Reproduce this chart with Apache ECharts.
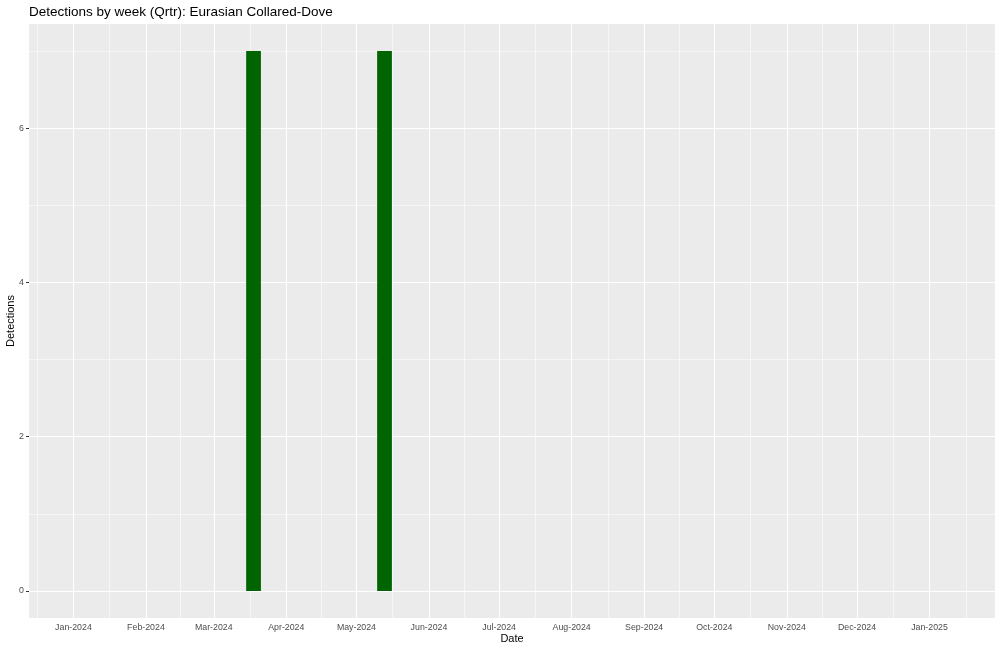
<!DOCTYPE html>
<html>
<head>
<meta charset="utf-8">
<script src="https://cdn.jsdelivr.net/npm/echarts@6/dist/echarts.min.js"></script>
<style>
html,body{margin:0;padding:0;background:#fff;}
#chart{width:1000px;height:651px;}
</style>
</head>
<body>
<div id="chart"></div>
<script>
// ---- data ----
const weekStarts = ['2024-03-18', '2024-05-13'];
const detections = [7, 7];
const monthBreaks = ['2023-12-01','2024-01-01','2024-02-01','2024-03-01','2024-04-01','2024-05-01','2024-06-01','2024-07-01','2024-08-01','2024-09-01','2024-10-01','2024-11-01','2024-12-01','2025-01-01','2025-02-01'];
const xTickLabels = ['Dec-2023','Jan-2024','Feb-2024','Mar-2024','Apr-2024','May-2024','Jun-2024','Jul-2024','Aug-2024','Sep-2024','Oct-2024','Nov-2024','Dec-2024','Jan-2025','Feb-2025'];
const yTicks = [0, 2, 4, 6];
const yMinor = [1, 3, 5, 7];
const xRange = ['2023-12-13', '2025-01-29'];
const yRange = [-0.35, 7.35];

const DAY = 86400000;
const ts = s => Date.parse(s + 'T00:00:00Z');
const breakTs = monthBreaks.map(ts);
const xMin = ts(xRange[0]), xMax = ts(xRange[1]);
const visibleBreaks = breakTs.filter(t => t >= xMin && t <= xMax);
const minorX = [];
for (let i = 0; i < breakTs.length - 1; i++) {
  const m = (breakTs[i] + breakTs[i+1]) / 2;
  if (m >= xMin && m <= xMax) minorX.push(m);
}
const barData = weekStarts.map((d, i) => [ts(d), detections[i]]);
const halfW = 7 * 0.9 / 2 * DAY;

const FONT = '"Liberation Sans", Arial, Helvetica, sans-serif';

const gridMarks = [];
visibleBreaks.forEach(v => gridMarks.push({xAxis: v, lineStyle: {color: '#ffffff', width: 1.1, type: 'solid'}}));
minorX.forEach(v => gridMarks.push({xAxis: v, lineStyle: {color: '#ffffff', width: 0.55, type: 'solid'}}));
yTicks.forEach(v => gridMarks.push({yAxis: v, lineStyle: {color: '#ffffff', width: 1.1, type: 'solid'}}));
yMinor.forEach(v => gridMarks.push({yAxis: v, lineStyle: {color: '#ffffff', width: 0.55, type: 'solid'}}));

const chart = echarts.init(document.getElementById('chart'), null, {renderer: 'canvas'});
chart.setOption({
  animation: false,
  backgroundColor: '#ffffff',
  title: {
    text: 'Detections by week (Qrtr): Eurasian Collared-Dove',
    left: 24, top: 0,
    textStyle: {fontFamily: FONT, fontSize: 13.5, fontWeight: 'normal', color: '#000000'}
  },
  grid: {left: 29, right: 5, top: 24, bottom: 33, show: true, backgroundColor: '#EBEBEB', borderWidth: 0, containLabel: false, outerBoundsMode: 'none'},
  xAxis: {
    type: 'value',
    min: xMin, max: xMax,
    name: 'Date', nameLocation: 'middle', nameGap: 15, nameMoveOverlap: false,
    nameTextStyle: {fontFamily: FONT, fontSize: 11, color: '#000000'},
    axisLine: {show: false},
    axisTick: {show: true, length: 3, customValues: visibleBreaks, lineStyle: {color: '#333333', width: 1}},
    axisLabel: {
      customValues: visibleBreaks, margin: 5,
      fontFamily: FONT, fontSize: 8.8, color: '#4D4D4D',
      formatter: v => { const i = breakTs.indexOf(v); return i >= 0 ? xTickLabels[i] : ''; }
    },
    splitLine: {show: false}
  },
  yAxis: {
    type: 'value',
    min: yRange[0], max: yRange[1],
    name: 'Detections', nameLocation: 'middle', nameGap: 12.5, nameMoveOverlap: false,
    nameTextStyle: {fontFamily: FONT, fontSize: 11, color: '#000000'},
    axisLine: {show: false},
    axisTick: {show: true, length: 3, customValues: yTicks, lineStyle: {color: '#333333', width: 1}},
    axisLabel: {customValues: yTicks, margin: 5, fontFamily: FONT, fontSize: 8.8, color: '#4D4D4D'},
    splitLine: {show: false}
  },
  series: [
    {
      type: 'line', data: [], z: 1, silent: true,
      markLine: {silent: true, z: 1, symbol: ['none','none'], label: {show: false}, animation: false, data: gridMarks}
    },
    {
      type: 'custom', z: 10,
      data: barData,
      renderItem: function (params, api) {
        const t = api.value(0), v = api.value(1);
        const p0 = api.coord([t - halfW, v]);
        const p1 = api.coord([t + halfW, 0]);
        return {
          type: 'rect',
          shape: {x: p0[0], y: p0[1], width: p1[0] - p0[0], height: p1[1] - p0[1]},
          style: {fill: '#006400', stroke: '#006400', lineWidth: 0}
        };
      }
    }
  ]
});
</script>
</body>
</html>
